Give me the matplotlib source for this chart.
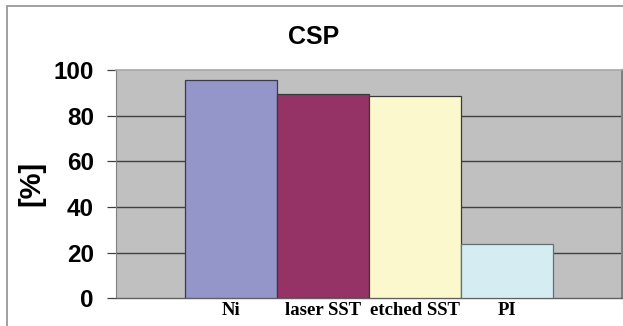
import matplotlib
matplotlib.use("Agg")
import matplotlib.pyplot as plt
from matplotlib.patches import Rectangle

# Bar heights per coating
labels = ['Ni', 'laser SST', 'etched SST', 'PI']
values = [95.4, 89.7, 88.4, 23.6]
colors = ['#9495c8', '#963366', '#faf8cc', '#d4ecf2']
edges = ['#3a3a4a', '#3a3a3a', '#3a3a3a', '#607078']
yticks = [0, 20, 40, 60, 80, 100]

fig = plt.figure(figsize=(6.23, 3.26), dpi=100)
fig.patch.set_facecolor('white')

# outer chart border (only left/top visible)
fig.patches.append(Rectangle((0.0112, -0.1), 1.2, 1.0816, transform=fig.transFigure,
                             fill=False, edgecolor='#999999', lw=1.3, zorder=0))

ax = fig.add_axes([0.1862, 0.085, 0.8122, 0.7003])
ax.set_facecolor('#c0c0c0')

x = list(range(len(labels)))
ax.bar(x, values, width=1.0, color=colors, edgecolor=edges, linewidth=0.9, zorder=3)

ax.set_xlim(-1.253, 4.247)
ax.set_ylim(0, 100)
ax.set_yticks(yticks)
ax.set_yticklabels([str(v) for v in yticks], fontsize=17.5, fontweight='bold',
                   family='Liberation Sans')
ax.set_xticks(x)
ax.set_xticklabels(labels, fontsize=13.5, fontweight='bold', family='Liberation Serif')
ax.tick_params(axis='x', length=0, pad=2.5)
ax.tick_params(axis='y', length=6.5, width=0.9, color='#404040', pad=9.5)

# gridlines
for v in yticks[1:-1]:
    ax.axhline(v, color='#404040', lw=1.0, zorder=1)

ax.spines['top'].set_color('#a8a8a8')
ax.spines['top'].set_linewidth(1.2)
ax.spines['left'].set_color('#808080')
ax.spines['right'].set_color('#808080')
ax.spines['right'].set_linewidth(1.5)
ax.spines['bottom'].set_color('#606060')
ax.spines['bottom'].set_linewidth(1.0)

fig.text(314 / 623, 1 - 37.5 / 326, 'CSP', ha='center', va='center',
         fontsize=18, fontweight='bold', family='Liberation Sans')
fig.text(31 / 623, 1 - 183 / 326, '[%]', ha='center', va='center', rotation=90,
         fontsize=21, fontweight='bold', family='Liberation Sans')

fig.savefig('out.png', dpi=100)
